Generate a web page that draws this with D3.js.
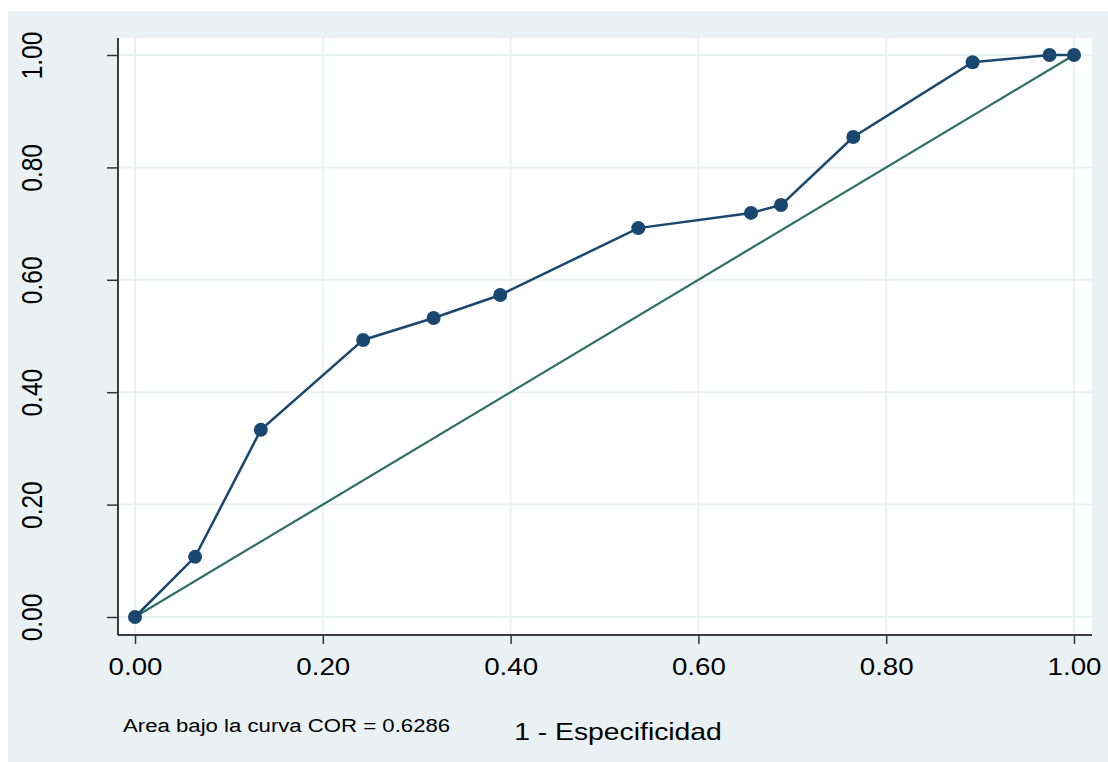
<!DOCTYPE html>
<html>
<head>
<meta charset="utf-8">
<script src="https://cdn.jsdelivr.net/npm/d3@7"></script>
<style>
    html, body { margin: 0; padding: 0; background: #fff; }
    svg { display: block; }
    text { font-family: "Liberation Sans", Arial, sans-serif; fill: #000; }
</style>
</head>
<body>
<svg id="chart" width="1108" height="762"></svg>
<script>
// ROC curve points (1 - specificity, sensitivity)
const fpr = [0, 0.064, 0.134, 0.243, 0.318, 0.389, 0.536, 0.656, 0.688, 0.765, 0.892, 0.974, 1];
const tpr = [0, 0.107, 0.333, 0.493, 0.532, 0.573, 0.692, 0.719, 0.733, 0.854, 0.987, 1, 1];
const tickValues = [0, 0.2, 0.4, 0.6, 0.8, 1];
const xTitle = '1 - Especificidad';
const areaNote = 'Area bajo la curva COR = 0.6286';

/**
 * Visual configs.
 */
const svgWidth = 1108, svgHeight = 762;
const plot = { left: 118, right: 1092, top: 38, bottom: 635 };
const stretch = 1.18; // text in the reference is wider than tall
const bgColor = '#eaf1f3', gridColor = '#eaf1f3',
    curveColor = '#1a476f', refColor = '#2e6f62';

const svg = d3.select('#chart');

const xScale = d3.scaleLinear().domain([0, 1]).range([135, 1074]),
    yScale = d3.scaleLinear().domain([0, 1]).range([617, 55]);

// Backgrounds
svg.append('rect')
    .attr('x', 8).attr('y', 11)
    .attr('width', svgWidth - 8).attr('height', svgHeight - 11)
    .attr('fill', bgColor);
svg.append('rect')
    .attr('x', plot.left).attr('y', plot.top)
    .attr('width', plot.right - plot.left).attr('height', plot.bottom - plot.top)
    .attr('fill', '#fff');

// Grid
const grid = svg.append('g').attr('class', 'grid');
grid.selectAll('line.v').data(tickValues).enter().append('line')
    .attr('class', 'v')
    .attr('x1', d => xScale(d)).attr('x2', d => xScale(d))
    .attr('y1', plot.top).attr('y2', plot.bottom)
    .attr('stroke', gridColor).attr('stroke-width', 2);
grid.selectAll('line.h').data(tickValues).enter().append('line')
    .attr('class', 'h')
    .attr('x1', plot.left).attr('x2', plot.right)
    .attr('y1', d => yScale(d)).attr('y2', d => yScale(d))
    .attr('stroke', gridColor).attr('stroke-width', 2);

// Axes
const xAxis = d3.axisBottom(xScale).tickValues(tickValues).tickSize(9).tickFormat(d3.format('.2f')),
    yAxis = d3.axisLeft(yScale).tickValues(tickValues).tickSize(11).tickFormat(d3.format('.2f'));

const xAxisContainer = svg.append('g')
    .attr('transform', 'translate(0,' + plot.bottom + ')')
    .call(xAxis);
xAxisContainer.select('.domain')
    .attr('d', 'M' + plot.left + ',0H' + plot.right);
xAxisContainer.selectAll('.tick text')
    .attr('y', null).attr('dy', null)
    .attr('transform', 'translate(0,40) scale(' + stretch + ',1)')
    .style('font-size', '23.5px');

const yAxisContainer = svg.append('g')
    .attr('transform', 'translate(' + plot.left + ',0)')
    .call(yAxis);
yAxisContainer.select('.domain')
    .attr('d', 'M0,' + plot.top + 'V' + plot.bottom);
yAxisContainer.selectAll('.tick text')
    .attr('x', null).attr('dy', null)
    .attr('text-anchor', 'middle')
    .attr('transform', 'translate(-76,0) scale(' + stretch + ',1) rotate(-90)')
    .style('font-size', '24.5px');

svg.selectAll('.domain').attr('stroke', '#000').attr('stroke-width', 1.5);
svg.selectAll('.tick line').attr('stroke', '#333').attr('stroke-width', 1.5);

// Reference line
svg.append('line')
    .attr('x1', xScale(0)).attr('y1', yScale(0))
    .attr('x2', xScale(1)).attr('y2', yScale(1))
    .attr('stroke', refColor).attr('stroke-width', 2.2);

// ROC curve
const points = fpr.map((x, i) => ({ x: x, y: tpr[i] }));
const line = d3.line().x(d => xScale(d.x)).y(d => yScale(d.y));
svg.append('path')
    .datum(points)
    .attr('d', line)
    .attr('fill', 'none')
    .attr('stroke', curveColor)
    .attr('stroke-width', 2.5);
svg.selectAll('circle.pt').data(points).enter().append('circle')
    .attr('class', 'pt')
    .attr('cx', d => xScale(d.x)).attr('cy', d => yScale(d.y))
    .attr('r', 7)
    .attr('fill', curveColor);

// Titles
svg.append('text')
    .attr('text-anchor', 'middle')
    .attr('transform', 'translate(618,740) scale(' + stretch + ',1)')
    .style('font-size', '24px')
    .text(xTitle);
svg.append('text')
    .attr('transform', 'translate(123,732) scale(' + stretch + ',1)')
    .style('font-size', '18.8px')
    .text(areaNote);
</script>
</body>
</html>
